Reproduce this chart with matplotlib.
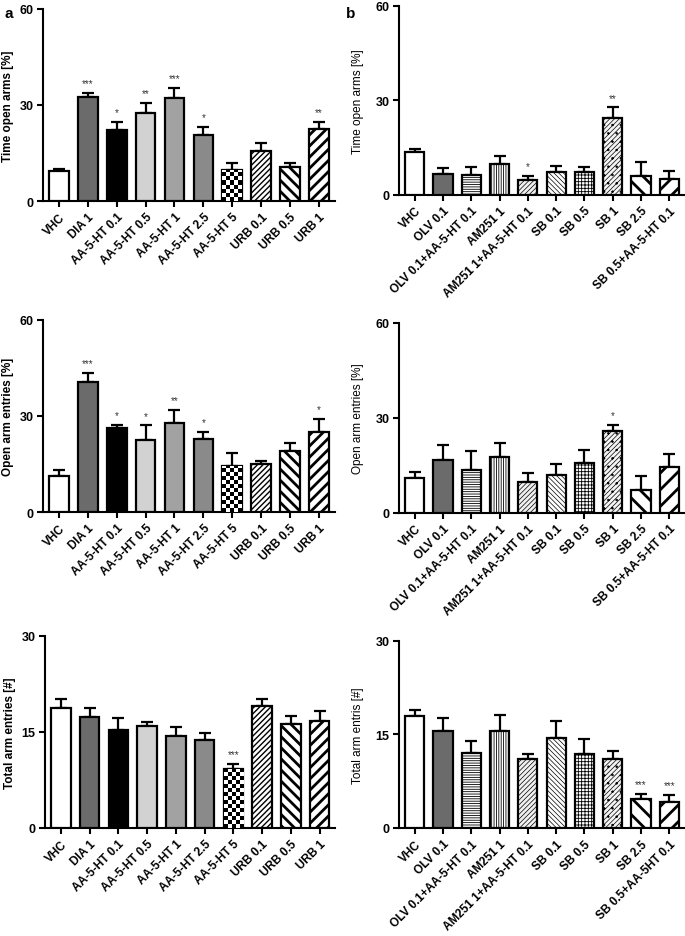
import numpy as np
import matplotlib
matplotlib.use("Agg")
import matplotlib.pyplot as plt

plt.rcParams['font.family'] = ['Liberation Sans', 'DejaVu Sans']
plt.rcParams['hatch.color'] = 'black'

# ---- data ----
groups_a = ["VHC", "DIA 1", "AA-5-HT 0.1", "AA-5-HT 0.5", "AA-5-HT 1",
            "AA-5-HT 2.5", "AA-5-HT 5", "URB 0.1", "URB 0.5", "URB 1"]
groups_b = ["VHC", "OLV 0.1", "OLV 0.1+AA-5-HT 0.1", "AM251 1", "AM251 1+AA-5-HT 0.1",
            "SB 0.1", "SB 0.5", "SB 1", "SB 2.5", "SB 0.5+AA-5-HT 0.1"]
groups_b_bot = groups_b[:-1] + ["SB 0.5+AA-5HT 0.1"]

time_a = [9.3, 32.4, 22.3, 27.4, 32.2, 20.6, 9.7, 15.6, 10.6, 22.4]
time_a_err = [10.1, 33.75, 24.8, 30.7, 35.4, 23.2, 11.8, 18.0, 11.8, 24.8]
time_a_sig = ["", "***", "*", "**", "***", "*", "", "", "", "**"]

time_b = [13.5, 6.7, 6.3, 9.8, 4.8, 7.1, 7.1, 24.5, 6.0, 5.0]
time_b_err = [14.6, 8.4, 8.9, 12.3, 6.0, 9.2, 8.7, 27.7, 10.3, 7.4]
time_b_sig = ["", "", "", "", "*", "", "", "**", "", ""]

entries_a = [11.3, 40.6, 26.2, 22.6, 27.7, 22.9, 14.5, 15.0, 19.0, 25.1]
entries_a_err = [13.1, 43.4, 27.2, 27.0, 31.9, 25.1, 18.4, 16.0, 21.6, 29.1]
entries_a_sig = ["", "***", "*", "*", "**", "*", "", "", "", "*"]

entries_b = [11.1, 16.6, 13.6, 17.6, 9.6, 12.0, 15.6, 25.9, 7.1, 14.5]
entries_b_err = [12.9, 21.4, 19.4, 22.0, 12.4, 15.4, 19.7, 27.7, 11.7, 18.6]
entries_b_sig = ["", "", "", "", "", "", "", "*", "", ""]

total_a = [18.8, 17.4, 15.3, 16.0, 14.4, 13.8, 9.2, 19.0, 16.2, 16.7]
total_a_err = [20.1, 18.7, 17.2, 16.6, 15.7, 14.9, 10.0, 20.1, 17.5, 18.2]
total_a_sig = ["", "", "", "", "", "", "***", "", "", ""]

total_b = [18.0, 15.6, 12.1, 15.5, 11.0, 14.4, 11.9, 11.1, 4.65, 4.1]
total_b_err = [18.9, 17.6, 13.9, 18.1, 11.9, 17.2, 14.2, 12.4, 5.5, 5.35]
total_b_sig = ["", "", "", "", "", "", "", "", "***", "***"]

# bar styles: (facecolor, hatch, hatch linewidth)
style_a = [("white", None, 1), ("#6b6b6b", None, 1), ("black", None, 1),
           ("#d2d2d2", None, 1), ("#a2a2a2", None, 1), ("#8a8a8a", None, 1),
           ("checker", None, 1), ("white", "//////", 1.0), ("white", "\\\\\\", 2.0),
           ("white", "///", 2.0)]
style_b = [("white", None, 1), ("#6b6b6b", None, 1), ("white", "-------", 0.6),
           ("white", "|||||||", 0.6), ("#f0f0f0", "///////", 0.5),
           ("white", "\\" * 7, 0.5), ("white", "+++++", 0.6),
           ("#f4f4f4", "///////..", 0.5), ("white", "\\\\", 2.0), ("white", "//", 2.0)]


def panel(ax, labels, vals, tops, sig, styles, ymax, ylabel, ylab_weight, xpad):
    x = np.arange(len(vals))
    ax.errorbar(x, vals, yerr=[np.zeros(len(vals)), np.array(tops) - np.array(vals)],
                fmt='none', ecolor='black', elinewidth=1.6, capsize=4, capthick=1.6, zorder=2)
    bars = ax.bar(x, vals, width=0.68, edgecolor='black', linewidth=1.6, zorder=3)
    ax_h = ax.get_position().height * ax.figure.get_figheight() * ax.figure.dpi
    for b, (fc, h, hl) in zip(bars, styles):
        if fc == "checker":
            # checkerboard fill, about 4 px squares, clipped to the bar
            b.set_facecolor("white")
            cy = ymax * 4.0 / ax_h
            ny = int(np.ceil(b.get_height() / cy))
            board = (np.add.outer(np.arange(ny), np.arange(5)) % 2)
            img = ax.imshow(board, cmap='gray', interpolation='nearest', aspect='auto',
                            extent=(b.get_x(), b.get_x() + b.get_width(), 0, ny * cy),
                            origin='lower', zorder=3.5)
            img.set_clip_path(b)
        else:
            b.set_facecolor(fc)
            if h:
                b.set_hatch(h)
                if hasattr(b, "set_hatch_linewidth"):
                    b.set_hatch_linewidth(hl)
    for xi, t, s in zip(x, tops, sig):
        if s:
            ax.text(xi, t + ymax * 0.025, s, ha='center', va='bottom', fontsize=7,
                    color='#333333')
    ax.set_xlim(-0.55, len(vals) - 0.45)
    ax.set_ylim(0, ymax)
    ax.set_yticks([0, ymax / 2, ymax])
    ax.set_yticklabels(["0", str(int(ymax / 2)), str(int(ymax))], fontsize=9, fontweight='bold')
    ax.set_xticks(x)
    ax.set_xticklabels(labels, rotation=45, ha='right', rotation_mode='anchor',
                       fontsize=8.5, fontweight='bold')
    ax.spines['top'].set_visible(False)
    ax.spines['right'].set_visible(False)
    ax.spines['left'].set_linewidth(1.5)
    ax.spines['bottom'].set_linewidth(1.5)
    ax.tick_params(axis='both', direction='out', length=4, width=1.5, pad=3)
    ax.set_ylabel(ylabel, fontsize=8.5, fontweight=ylab_weight, labelpad=xpad)


fig = plt.figure(figsize=(6.85, 9.37), dpi=100)

ax1 = fig.add_axes([0.0628, 0.7844, 0.426, 0.205])
ax2 = fig.add_axes([0.5825, 0.7911, 0.4175, 0.2017])
ax3 = fig.add_axes([0.0628, 0.4525, 0.426, 0.2052])
ax4 = fig.add_axes([0.5825, 0.4518, 0.4175, 0.2025])
ax5 = fig.add_axes([0.0657, 0.1153, 0.424, 0.2049])
ax6 = fig.add_axes([0.5825, 0.1153, 0.4175, 0.1996])

panel(ax1, groups_a, time_a, time_a_err, time_a_sig, style_a, 60, "Time open arms [%]", 'bold', 4)
panel(ax2, groups_b, time_b, time_b_err, time_b_sig, style_b, 60, "Time open arms [%]", 'normal', 8)
panel(ax3, groups_a, entries_a, entries_a_err, entries_a_sig, style_a, 60, "Open arm entries [%]", 'bold', 4)
panel(ax4, groups_b, entries_b, entries_b_err, entries_b_sig, style_b, 60, "Open arm entries [%]", 'normal', 8)
panel(ax5, groups_a, total_a, total_a_err, total_a_sig, style_a, 30, "Total arm entries [#]", 'bold', 4)
panel(ax6, groups_b_bot, total_b, total_b_err, total_b_sig, style_b, 30, "Total arm entris [#]", 'normal', 8)

fig.text(0.006, 0.992, "a", fontsize=11, fontweight='bold', va='top')
fig.text(0.505, 0.992, "b", fontsize=11, fontweight='bold', va='top')

fig.savefig("out.png", dpi=100)
